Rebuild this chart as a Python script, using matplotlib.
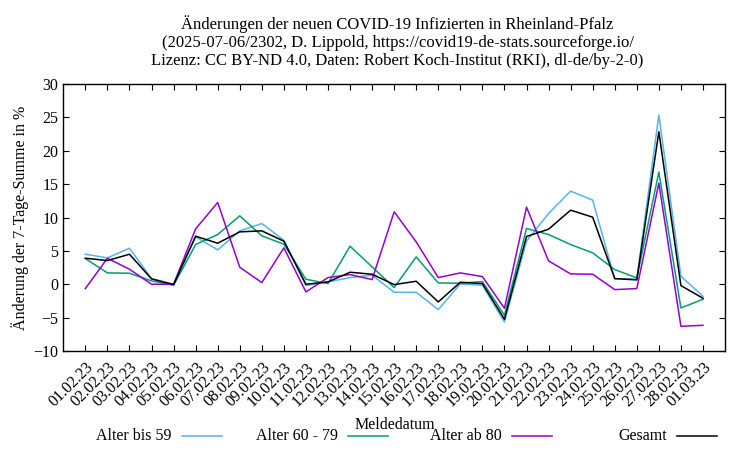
import matplotlib.pyplot as plt
from matplotlib.lines import Line2D

plt.rcParams['font.family'] = ['Liberation Serif', 'DejaVu Serif']

dates = ['01.02.23', '02.02.23', '03.02.23', '04.02.23', '05.02.23', '06.02.23', '07.02.23',
         '08.02.23', '09.02.23', '10.02.23', '11.02.23', '12.02.23', '13.02.23', '14.02.23',
         '15.02.23', '16.02.23', '17.02.23', '18.02.23', '19.02.23', '20.02.23', '21.02.23',
         '22.02.23', '23.02.23', '24.02.23', '25.02.23', '26.02.23', '27.02.23', '28.02.23',
         '01.03.23']

bis59 = [4.5, 3.95, 5.4, 0.85, 0.0, 7.1, 5.15, 8.0, 9.1, 6.6,
         -0.2, 0.35, 1.0, 1.35, -1.2, -1.2, -3.8, 0.05, -0.15, -5.65,
         6.45, 10.6, 13.95, 12.6, 0.8, 0.8, 25.35, 1.2, -1.8]
a60_79 = [3.85, 1.7, 1.65, 0.5, -0.15, 5.95, 7.45, 10.25, 7.25, 6.0,
          0.75, 0.1, 5.7, 2.6, -0.5, 4.1, 0.2, 0.15, 0.4, -4.65,
          8.35, 7.45, 5.95, 4.7, 2.2, 0.95, 16.8, -3.55, -2.25]
ab80 = [-0.65, 3.9, 2.25, 0.0, 0.0, 8.3, 12.25, 2.55, 0.25, 5.45,
        -1.15, 1.0, 1.45, 0.7, 10.85, 6.35, 1.0, 1.7, 1.15, -3.6,
        11.55, 3.5, 1.55, 1.5, -0.8, -0.65, 15.15, -6.3, -6.15]
gesamt = [3.9, 3.55, 4.5, 0.8, -0.05, 7.2, 6.15, 7.85, 8.0, 6.45,
          0.0, 0.35, 1.8, 1.5, -0.05, 0.45, -2.65, 0.3, 0.1, -5.25,
          7.15, 8.25, 11.1, 10.05, 0.85, 0.65, 22.85, -0.2, -2.1]

series = [('Alter bis 59', bis59, '#56b4e9'),
          ('Alter 60 - 79', a60_79, '#009e73'),
          ('Alter ab 80', ab80, '#9400d3'),
          ('Gesamt', gesamt, '#000000')]

fs = 11.5

fig = plt.figure(figsize=(7.5, 4.5), dpi=100)
ax = fig.add_axes([0.0844, 0.22, 0.8823, 0.5933])

x = list(range(len(dates)))
for name, vals, col in series:
    ax.plot(x, vals, color=col, lw=1.1)

ax.set_xlim(-1, 29)
ax.set_ylim(-10, 30)
ax.set_yticks(range(-10, 31, 5))
ax.set_xticks(x)
ax.set_xticklabels(dates, rotation=45, ha='right', rotation_mode='anchor', fontsize=fs)
ax.tick_params(axis='y', labelsize=fs)
ax.tick_params(axis='x', pad=6)
ax.tick_params(direction='in', top=True, right=True, length=4, width=0.8)
for s in ax.spines.values():
    s.set_linewidth(1.0)

ax.set_ylabel('Änderung der 7-Tage-Summe in %', fontsize=fs, labelpad=3)
fig.text(0.527, 0.056, 'Meldedatum', ha='center', va='center', fontsize=fs)

fig.text(0.53, 0.966, 'Änderungen der neuen COVID-19 Infizierten in Rheinland-Pfalz\n'
         '(2025-07-06/2302, D. Lippold, https://covid19-de-stats.sourceforge.io/\n'
         'Lizenz: CC BY-ND 4.0, Daten: Robert Koch-Institut (RKI), dl-de/by-2-0)',
         ha='center', va='top', fontsize=12, linespacing=1.15)

# legend drawn gnuplot style: right-aligned text followed by sample line
text_ends = [172, 338, 502, 667]
for (name, vals, col), xe in zip(series, text_ends):
    y = 1 - 436 / 450
    fig.text(xe / 750, y, name, ha='right', va='center', fontsize=fs)
    fig.add_artist(Line2D([(xe + 10) / 750, (xe + 50) / 750], [y, y],
                          color=col, lw=1.1, transform=fig.transFigure))

fig.savefig('out.png', dpi=100)
